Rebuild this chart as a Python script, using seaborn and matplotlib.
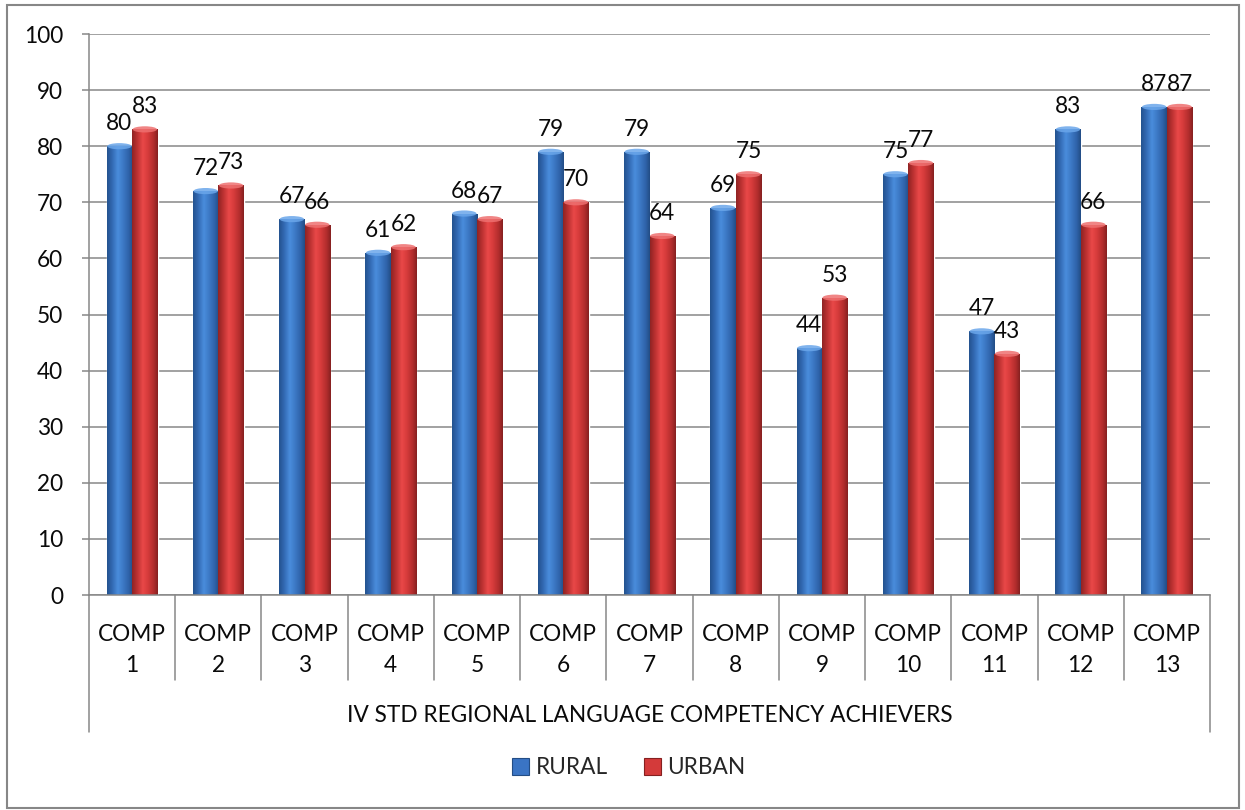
import numpy as np
import pandas as pd
import matplotlib
matplotlib.use("Agg")
import matplotlib.pyplot as plt
import matplotlib.transforms as mtransforms
from matplotlib.patches import Rectangle, Ellipse
from matplotlib.colors import to_rgb
import seaborn as sns

categories = ["COMP\n1", "COMP\n2", "COMP\n3", "COMP\n4", "COMP\n5", "COMP\n6", "COMP\n7",
              "COMP\n8", "COMP\n9", "COMP\n10", "COMP\n11", "COMP\n12", "COMP\n13"]
rural = [80, 72, 67, 61, 68, 79, 79, 69, 44, 75, 47, 83, 87]
urban = [83, 73, 66, 62, 67, 70, 64, 75, 53, 77, 43, 66, 87]
series = ["RURAL", "URBAN"]
group_title = "IV STD REGIONAL LANGUAGE COMPETENCY ACHIEVERS"
y_ticks = list(range(0, 101, 10))

df = pd.DataFrame({
    "comp": categories * 2,
    "area": [series[0]] * len(rural) + [series[1]] * len(urban),
    "value": rural + urban,
})

sns.set_theme(style="white")
plt.rcParams["font.family"] = ["Lato", "DejaVu Sans"]
FS = 16.3
TXT = "#0a0a0a"

base = {"RURAL": "#3a74c4", "URBAN": "#d43a3a"}
# horizontal shading stops (position, colour) giving a rounded column look
shade = {
    "RURAL": [(0.0, "#24538f"), (0.18, "#3167b0"), (0.42, "#4a8ddc"), (0.6, "#3e7bc8"),
              (0.85, "#2e62a8"), (1.0, "#234d85")],
    "URBAN": [(0.0, "#8f2424"), (0.18, "#b83030"), (0.42, "#e94848"), (0.6, "#d83c3c"),
              (0.85, "#b02c2c"), (1.0, "#862020")],
}
cap = {"RURAL": "#6aa6ea", "URBAN": "#ee7070"}

fig = plt.figure(figsize=(12.45, 8.10), dpi=100)
ax = fig.add_axes([89 / 1245, 1 - 595 / 810, (1210 - 89) / 1245, (595 - 34) / 810])

sns.barplot(data=df, x="comp", y="value", hue="area", order=categories,
            hue_order=series, palette=base, width=0.59, dodge=True,
            saturation=1, ax=ax, legend=False, zorder=2)

ax.set_xlim(-0.5, len(categories) - 0.5)
ax.set_ylim(0, 100)


def gradient_image(stops, n=64):
    xs = np.linspace(0, 1, n)
    pos = [s[0] for s in stops]
    cols = np.array([to_rgb(s[1]) for s in stops])
    img = np.stack([np.interp(xs, pos, cols[:, k]) for k in range(3)], axis=-1)
    return img[np.newaxis, :, :]


for name, container in zip(series, ax.containers):
    img = gradient_image(shade[name])
    for bar in container:
        x0, w, h = bar.get_x(), bar.get_width(), bar.get_height()
        im = ax.imshow(img, extent=[x0, x0 + w, 0, h], aspect="auto",
                       interpolation="bilinear", zorder=2.5)
        im.set_clip_path(bar)
        ax.add_patch(Ellipse((x0 + w / 2, h), w * 0.96, 1.1, facecolor=cap[name],
                             edgecolor="none", alpha=0.85, zorder=2.6))
        ax.annotate(f"{h:.0f}", (x0 + w / 2, h), xytext=(0, 12),
                    textcoords="offset pixels", ha="center", va="bottom",
                    fontsize=FS, color=TXT, zorder=4)

ax.set_xlim(-0.5, len(categories) - 0.5)
ax.set_ylim(0, 100)
ax.set_yticks(y_ticks)
ax.yaxis.grid(True, color="#878787", linewidth=1.1)
ax.set_axisbelow(True)
ax.set_xlabel("")
ax.set_ylabel("")

for side in ["top", "right"]:
    ax.spines[side].set_visible(False)
ax.spines["left"].set_color("#878787")
ax.spines["bottom"].set_color("#878787")
ax.spines["left"].set_linewidth(1.1)
ax.spines["bottom"].set_linewidth(1.1)

ax.tick_params(axis="y", direction="out", length=5, width=1.1, color="#878787",
               pad=13.5, labelsize=FS, labelcolor=TXT, left=True)
ax.tick_params(axis="x", length=0, pad=21, labelsize=FS, labelcolor=TXT)
for lbl in ax.get_xticklabels():
    lbl.set_linespacing(1.58)

# category separators and outer brackets of the two-level category axis
trans = mtransforms.blended_transform_factory(ax.transData, ax.transAxes)
n = len(categories)
for i in range(n + 1):
    xb = i - 0.5
    bottom = -0.244 if i in (0, n) else -0.1515
    ax.plot([xb, xb], [0, bottom], transform=trans, color="#878787",
            linewidth=1.1, clip_on=False, zorder=1)

ax.text((n - 1) / 2, -0.215, group_title, transform=trans, ha="center", va="center",
        fontsize=FS, color=TXT)

# legend
handles = []
for name in series:
    handles.append(Rectangle((0, 0), 1, 1, facecolor=base[name],
                             edgecolor=shade[name][-1][1], linewidth=0.8))
fig.legend(handles, series, loc="center", bbox_to_anchor=(0.505, 1 - 768 / 810),
           ncol=2, frameon=False, fontsize=FS, handlelength=0.75, handleheight=0.75,
           handletextpad=0.3, columnspacing=1.6)

# outer chart border
fig.add_artist(Rectangle((7 / 1245, 1 - 808 / 810), (1239 - 7) / 1245, (808 - 5) / 810,
                         transform=fig.transFigure, fill=False, edgecolor="#878787",
                         linewidth=1.5))

fig.savefig("out.png", dpi=100)
